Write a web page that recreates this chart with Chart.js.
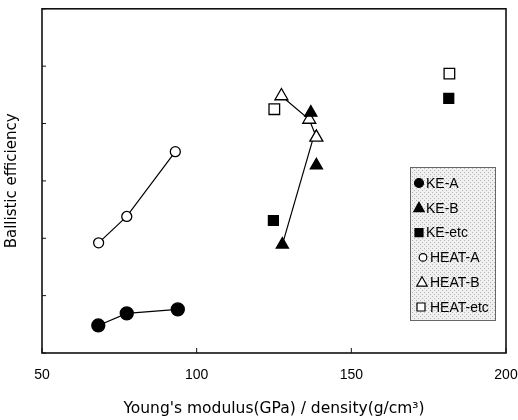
<!DOCTYPE html>
<html>
<head>
<meta charset="utf-8">
<script src="https://cdn.jsdelivr.net/npm/chart.js@4.4.0/dist/chart.umd.min.js"></script>
<style>
html, body { margin: 0; padding: 0; background: #fff; }
#wrap { width: 518px; height: 420px; }
</style>
</head>
<body>
<div id="wrap"><canvas id="efficiencyChart" width="518" height="420"></canvas></div>
<script>
// x = Young's modulus / density, y = ballistic efficiency (unlabelled units)
const xTicks = [50, 100, 150, 200];

const keAX = [68.2, 77.4, 93.9];
const keAY = [0.48, 0.69, 0.76];

const keBX = [127.7, 136.9, 138.7];
const keBY = [1.89, 4.19, 3.27];
// straight fit line drawn through the KE-B group
const keBLineX = [127.7, 138.4];
const keBLineY = [1.89, 3.88];

const keEtcX = [124.8, 181.5];
const keEtcY = [2.31, 4.44];

const heatAX = [68.3, 77.4, 93.1];
const heatAY = [1.92, 2.38, 3.51];

const heatBX = [127.4, 136.4, 138.7];
const heatBY = [4.48, 4.07, 3.76];

const heatEtcX = [125.1, 181.7];
const heatEtcY = [4.25, 4.87];

const legendNames = ['KE-A', 'KE-B', 'KE-etc', 'HEAT-A', 'HEAT-B', 'HEAT-etc'];

const FONT = "'Liberation Sans', Arial, sans-serif";
const WIDE = "'DejaVu Sans', sans-serif";

function pairs(xs, ys) {
    return xs.map((x, i) => ({ x: x, y: ys[i] }));
}

function series(label, xs, ys, style, filled, radius, line) {
    return {
        label: label,
        data: pairs(xs, ys),
        showLine: line,
        borderColor: '#000',
        borderWidth: 1.2,
        pointStyle: style,
        pointRadius: radius,
        pointHoverRadius: radius,
        pointBorderWidth: 1.3,
        pointBorderColor: '#000',
        pointBackgroundColor: filled ? '#000' : '#fff'
    };
}

const datasets = [
    series('KE-A', keAX, keAY, 'circle', true, 6.5, true),
    series('KE-B', keBX, keBY, 'triangle', true, 7, false),
    series('KE-etc', keEtcX, keEtcY, 'rect', true, 7, false),
    series('HEAT-A', heatAX, heatAY, 'circle', false, 5, true),
    series('HEAT-B', heatBX, heatBY, 'triangle', false, 7.5, true),
    series('HEAT-etc', heatEtcX, heatEtcY, 'rect', false, 7.5, false),
    Object.assign(series('KE-B fit', keBLineX, keBLineY, 'circle', true, 0, true), { pointRadius: 0 })
];

function stipple(ctx) {
    const c = document.createElement('canvas');
    c.width = 4; c.height = 4;
    const p = c.getContext('2d');
    p.fillStyle = '#f0f0f0';
    p.fillRect(0, 0, 4, 4);
    p.fillStyle = '#b5b5b5';
    p.fillRect(0, 0, 1, 1);
    p.fillRect(2, 2, 1, 1);
    return ctx.createPattern(c, 'repeat');
}

function marker(ctx, style, filled, x, y, r) {
    ctx.beginPath();
    if (style === 'circle') {
        ctx.arc(x, y, r, 0, Math.PI * 2);
    } else if (style === 'triangle') {
        ctx.moveTo(x, y - r);
        ctx.lineTo(x + r * 0.95, y + r * 0.7);
        ctx.lineTo(x - r * 0.95, y + r * 0.7);
        ctx.closePath();
    } else {
        ctx.rect(x - r, y - r, r * 2, r * 2);
    }
    ctx.fillStyle = filled ? '#000' : '#fff';
    ctx.fill();
    ctx.lineWidth = 1.2;
    ctx.strokeStyle = '#000';
    ctx.stroke();
}

const framePlugin = {
    id: 'frame',
    afterDraw(chart) {
        const ctx = chart.ctx;
        const a = chart.chartArea;
        const xs = chart.scales.x, ys = chart.scales.y;
        ctx.save();
        // box around the plot
        ctx.strokeStyle = '#111';
        ctx.lineWidth = 1.6;
        ctx.strokeRect(a.left, a.top, a.right - a.left, a.bottom - a.top);
        // inward tick marks
        ctx.lineWidth = 1;
        ctx.beginPath();
        xs.ticks.forEach(t => {
            const px = xs.getPixelForValue(t.value);
            ctx.moveTo(px, a.bottom);
            ctx.lineTo(px, a.bottom - 5);
        });
        ys.ticks.forEach(t => {
            const py = ys.getPixelForValue(t.value);
            ctx.moveTo(a.left, py);
            ctx.lineTo(a.left + 4, py);
        });
        ctx.stroke();

        // legend box inside the plot
        const lx = 410, ly = 167, lw = 85, lh = 153;
        ctx.fillStyle = stipple(ctx);
        ctx.fillRect(lx, ly, lw, lh);
        ctx.strokeStyle = '#666';
        ctx.lineWidth = 1;
        ctx.strokeRect(lx + 0.5, ly + 0.5, lw, lh);

        const sizes = [4.5, 5.5, 4, 3.8, 5.5, 4];
        const markX = [419, 419, 419, 423, 422, 421];
        ctx.font = '14px ' + FONT;
        ctx.textBaseline = 'middle';
        legendNames.forEach((name, i) => {
            const ds = chart.data.datasets[i];
            const y = 183 + i * 24.8;
            marker(ctx, ds.pointStyle, ds.pointBackgroundColor === '#000', markX[i], y, sizes[i]);
            ctx.fillStyle = '#000';
            ctx.fillText(name, i < 3 ? 426 : 430, y + 1);
        });
        ctx.restore();
    }
};

new Chart(document.getElementById('efficiencyChart'), {
    type: 'scatter',
    data: { datasets: datasets },
    options: {
        responsive: false,
        animation: false,
        layout: { padding: { left: 0, right: 12, top: 5, bottom: 0 } },
        plugins: {
            legend: { display: false },
            tooltip: { enabled: false }
        },
        scales: {
            x: {
                type: 'linear',
                min: xTicks[0],
                max: xTicks[xTicks.length - 1],
                afterBuildTicks: s => { s.ticks = xTicks.map(v => ({ value: v })); },
                afterFit: s => { s.height = 67; s.paddingLeft = 0; s.paddingRight = 0; },
                grid: { display: false, drawTicks: false },
                border: { display: false },
                ticks: { padding: 14, color: '#000', font: { family: FONT, size: 14 } },
                title: {
                    display: true,
                    text: "Young's modulus(GPa) / density(g/cm³)",
                    color: '#000',
                    font: { family: WIDE, size: 15.5 },
                    padding: { top: 0, bottom: 2 }
                }
            },
            y: {
                type: 'linear',
                min: 0,
                max: 6,
                ticks: { display: false, stepSize: 1 },
                afterFit: s => { s.width = 42; s.paddingTop = 0; s.paddingBottom = 0; },
                grid: { display: false, drawTicks: false },
                border: { display: false },
                title: {
                    display: true,
                    text: 'Ballistic efficiency',
                    color: '#000',
                    font: { family: WIDE, size: 15 },
                    padding: { top: 3, bottom: 0 }
                }
            }
        }
    },
    plugins: [framePlugin]
});
</script>
</body>
</html>
